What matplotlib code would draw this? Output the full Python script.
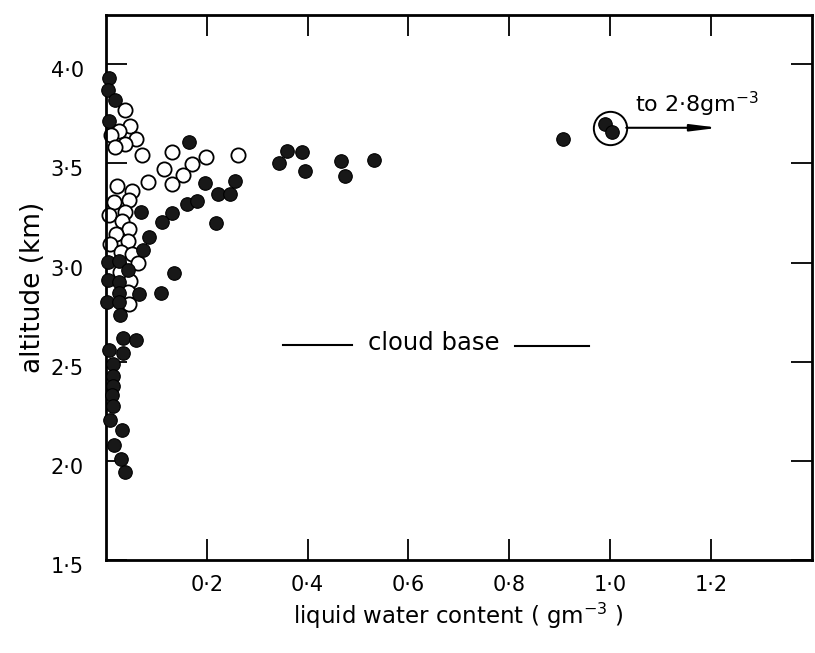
import matplotlib
matplotlib.use('Agg')
import matplotlib.pyplot as plt
from matplotlib.transforms import ScaledTranslation

# ---- data ----
filled_lwc = [0.006, 0.004, 0.017, 0.006, 0.165, 0.344, 0.359, 0.388, 0.394, 0.467,
              0.475, 0.531, 0.907, 0.990, 1.004,
              0.196, 0.255, 0.222, 0.246, 0.161, 0.181, 0.131, 0.070, 0.112, 0.219,
              0.085, 0.073, 0.135, 0.110, 0.066,
              0.004, 0.026, 0.044, 0.005, 0.025, 0.025, 0.003, 0.025, 0.028, 0.034,
              0.060, 0.007, 0.033, 0.013, 0.014, 0.014, 0.012, 0.013, 0.009, 0.031,
              0.016, 0.030, 0.037]
filled_alt = [3.933, 3.873, 3.818, 3.712, 3.607, 3.504, 3.564, 3.560, 3.460, 3.513,
              3.438, 3.516, 3.622, 3.699, 3.659,
              3.402, 3.414, 3.348, 3.344, 3.296, 3.311, 3.249, 3.257, 3.203, 3.202,
              3.127, 3.066, 2.947, 2.847, 2.840,
              3.003, 3.009, 2.963, 2.913, 2.904, 2.848, 2.802, 2.802, 2.738, 2.622,
              2.608, 2.561, 2.542, 2.491, 2.430, 2.380, 2.330, 2.279, 2.204, 2.155,
              2.079, 2.009, 1.944]

open_lwc = [0.037, 0.047, 0.026, 0.010, 0.059, 0.038, 0.018, 0.072, 0.132, 0.199,
            0.261, 0.171, 0.116, 0.152, 0.132, 0.083, 0.022, 0.052, 0.016, 0.046,
            0.037, 0.007, 0.031, 0.045, 0.020, 0.043, 0.008, 0.030, 0.052, 0.064,
            0.027, 0.047, 0.043, 0.045]
open_alt = [3.772, 3.688, 3.662, 3.642, 3.624, 3.598, 3.581, 3.543, 3.560, 3.531,
            3.545, 3.497, 3.470, 3.441, 3.394, 3.408, 3.386, 3.362, 3.305, 3.316,
            3.256, 3.239, 3.210, 3.170, 3.144, 3.110, 3.093, 3.054, 3.045, 3.000,
            2.954, 2.909, 2.854, 2.793]

circled_lwc = [1.0]
circled_alt = [3.68]
arrow_to_lwc = 1.215
off_scale_note = 'to 2·8gm$^{-3}$'

cloud_base_alt = 2.585
cloud_base_label = 'cloud base'

x_ticks = [0.2, 0.4, 0.6, 0.8, 1.0, 1.2]
x_tick_labels = ['0·2', '0·4', '0·6', '0·8', '1·0', '1·2']
y_ticks = [1.5, 2.0, 2.5, 3.0, 3.5, 4.0]
y_tick_labels = ['1·5', '2·0', '2·5', '3·0', '3·5', '4·0']

x_label = 'liquid water content ( gm$^{-3}$ )'
y_label = 'altitude (km)'

# ---- figure ----
plt.rcParams['font.family'] = ['DejaVu Sans']
plt.rcParams['mathtext.fontset'] = 'dejavusans'

fig = plt.figure(figsize=(8.15, 6.53), dpi=100)
ax = fig.add_axes([0.130, 0.1424, 0.866, 0.835])

ax.scatter(open_lwc, open_alt, s=105, facecolors='white', edgecolors='black',
           linewidths=1.3, zorder=2, clip_on=False)
ax.scatter(filled_lwc, filled_alt, s=95, facecolors='#181818', edgecolors='black',
           linewidths=0.8, zorder=3, clip_on=False)

# circled off-scale points and arrow
ax.plot(circled_lwc, circled_alt, 'o', ms=24, mfc='none', mec='black', mew=1.4, zorder=4)
ax.annotate('', xy=(arrow_to_lwc, circled_alt[0]), xytext=(circled_lwc[0] + 0.032, circled_alt[0]),
            arrowprops=dict(arrowstyle='-|>,head_length=1.6,head_width=0.2',
                            lw=1.5, color='black', shrinkA=0, shrinkB=0))
ax.text(1.05, 3.80, off_scale_note, fontsize=16, ha='left', va='center')

# cloud base marker
ax.plot([0.352, 0.489], [cloud_base_alt, cloud_base_alt], color='black', lw=1.5)
ax.plot([0.812, 0.958], [cloud_base_alt - 0.005, cloud_base_alt - 0.005], color='black', lw=1.5)
ax.text(0.651, cloud_base_alt + 0.01, cloud_base_label, fontsize=17.5, ha='center', va='center')

ax.set_xlim(0, 1.4)
ax.set_ylim(1.5, 4.25)
ax.set_xticks(x_ticks)
ax.set_xticklabels(x_tick_labels)
ax.set_yticks(y_ticks)
ax.set_yticklabels(y_tick_labels)

ax.tick_params(direction='in', length=15, width=1.3, top=True, right=True,
               labelsize=15)
ax.tick_params(axis='x', pad=11)
ax.tick_params(axis='y', pad=16)
for s in ax.spines.values():
    s.set_linewidth(2.0)

offset = ScaledTranslation(0, -0.05, fig.dpi_scale_trans)
for lbl in ax.get_yticklabels():
    lbl.set_transform(lbl.get_transform() + offset)

ax.set_xlabel(x_label, fontsize=16.5, labelpad=4)
ax.set_ylabel(y_label, fontsize=19, labelpad=3)

fig.savefig('out.png', dpi=100)
